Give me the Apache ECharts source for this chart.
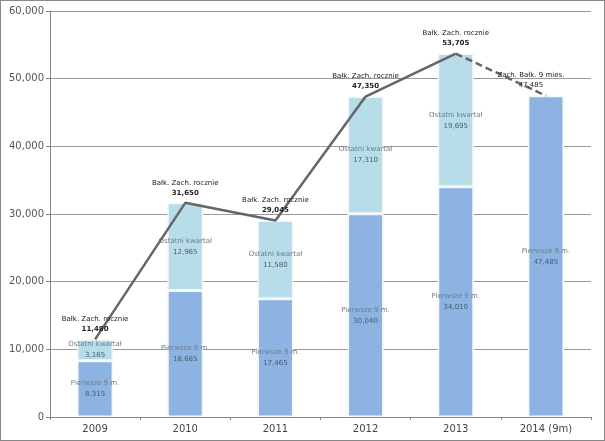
<!DOCTYPE html>
<html>
<head>
<meta charset="utf-8">
<script src="https://cdn.jsdelivr.net/npm/echarts@6/dist/echarts.min.js"></script>
<style>
  html, body { margin: 0; padding: 0; background: #fff; }
  #chart { width: 603px; height: 439px; border: 1px solid #888; }
</style>
</head>
<body>
<div id="chart"></div>
<script>
// dane
var years = ['2009', '2010', '2011', '2012', '2013', '2014 (9m)'];
var first9m = [8315, 18685, 17465, 30040, 34010, 47485];
var lastQuarter = [3165, 12965, 11580, 17310, 19695, '-'];
var yearly = [11480, 31650, 29045, 47350, 53705, '-'];
var forecast = ['-', '-', '-', '-', 53705, 47485];
var yTicks = [0, 10000, 20000, 30000, 40000, 50000, 60000];

var fmt = function (v) { return Number(v).toLocaleString('en-US'); };

var chart = echarts.init(document.getElementById('chart'));

var stackLabel = function (name) {
    return {
        show: true,
        position: 'inside',
        fontFamily: 'DejaVu Sans',
        fontSize: 7,
        lineHeight: 11,
        formatter: function (p) {
            return '{n|' + name + '}\n{v|' + fmt(p.value) + '}';
        },
        rich: {
            n: { color: '#6f7c8c', fontSize: 7, fontFamily: 'DejaVu Sans' },
            v: { color: '#4a5a70', fontSize: 7, fontFamily: 'DejaVu Sans' }
        }
    };
};

chart.setOption({
    backgroundColor: '#fff',
    animation: false,
    grid: { left: 49, right: 13, top: 10, bottom: 23, containLabel: false },
    xAxis: {
        type: 'category',
        data: years,
        boundaryGap: true,
        axisLine: { lineStyle: { color: '#888', width: 1 } },
        axisTick: { show: true, length: 3, lineStyle: { color: '#888' } },
        axisLabel: { color: '#444', fontSize: 10, fontFamily: 'DejaVu Sans', margin: 7 }
    },
    yAxis: {
        type: 'value',
        min: 0,
        max: 60000,
        interval: 10000,
        axisLine: { show: true, lineStyle: { color: '#888' } },
        axisTick: { show: true, length: 4, lineStyle: { color: '#888' } },
        splitLine: { lineStyle: { color: '#999', width: 1 } },
        axisLabel: {
            color: '#555',
            fontSize: 10,
            fontFamily: 'DejaVu Sans',
            margin: 6,
            formatter: function (v) { return yTicks.indexOf(v) >= 0 ? fmt(v) : ''; }
        }
    },
    series: [
        {
            name: 'Pierwsze 9 m.',
            type: 'bar',
            stack: 'a',
            barWidth: 36,
            data: first9m,
            itemStyle: { color: '#8db3e2', borderColor: '#f4f8fc', borderWidth: 1.5 },
            label: stackLabel('Pierwsze 9 m.'),
            z: 2
        },
        {
            name: 'Ostatni kwartał',
            type: 'bar',
            stack: 'a',
            barWidth: 36,
            data: lastQuarter,
            itemStyle: { color: '#b7dde8', borderColor: '#f4f8fc', borderWidth: 1.5 },
            label: stackLabel('Ostatni kwartał'),
            z: 2
        },
        {
            name: 'Bałk. Zach. rocznie',
            type: 'line',
            data: yearly,
            symbol: 'circle',
            symbolSize: 2,
            showSymbol: true,
            itemStyle: { color: 'rgba(0,0,0,0)', borderWidth: 0 },
            lineStyle: { color: '#666', width: 2.5 },
            z: 5,
            label: {
                show: true,
                position: 'top',
                distance: 4,
                formatter: function (p) {
                    return '{n|Bałk. Zach. rocznie}\n{v|' + fmt(p.value) + '}';
                },
                rich: {
                    n: { color: '#222', fontSize: 7, fontFamily: 'DejaVu Sans', lineHeight: 10 },
                    v: { color: '#222', fontSize: 7, fontWeight: 'bold', fontFamily: 'DejaVu Sans', lineHeight: 10 }
                }
            }
        },
        {
            name: 'Zach. Bałk. 9 mies.',
            type: 'line',
            data: forecast,
            symbol: 'circle',
            symbolSize: 2,
            showSymbol: true,
            itemStyle: { color: 'rgba(0,0,0,0)', borderWidth: 0 },
            lineStyle: { color: '#666', width: 2.5, type: [7, 4] },
            z: 5,
            label: {
                show: true,
                position: 'top',
                distance: 4,
                offset: [-15, 0],
                formatter: function (p) {
                    if (p.dataIndex !== years.length - 1) return '';
                    return '{n|Zach. Bałk. 9 mies.}\n{v|' + fmt(p.value) + '}';
                },
                rich: {
                    n: { color: '#222', fontSize: 7, fontFamily: 'DejaVu Sans', lineHeight: 10 },
                    v: { color: '#222', fontSize: 7, fontFamily: 'DejaVu Sans', lineHeight: 10 }
                }
            }
        }
    ]
});
</script>
</body>
</html>
